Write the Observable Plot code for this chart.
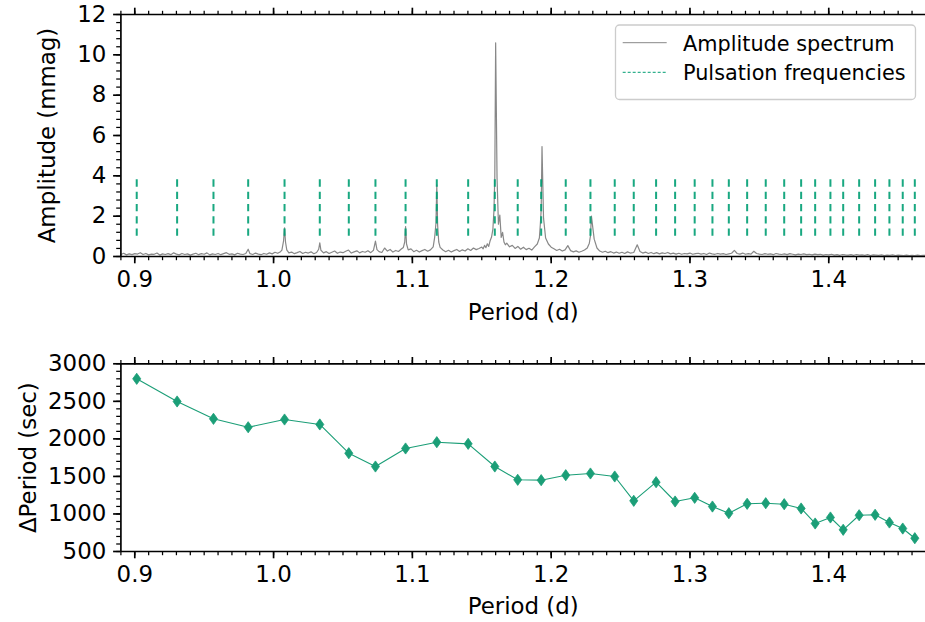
<!DOCTYPE html>
<html><head><meta charset="utf-8">
<script src="https://cdn.jsdelivr.net/npm/d3@7"></script>
<script src="https://cdn.jsdelivr.net/npm/@observablehq/plot@0.6"></script>
<style>
html,body{margin:0;padding:0;background:#fff;overflow:hidden}
#chart{width:925px;height:622px;position:relative}
#chart svg{display:block}
</style></head><body><div id="chart"></div>
<script>
// ---- data ----
const pulsationPeriods = [0.9014,0.9305,0.9567,0.9817,1.0079,1.0333,1.0542,1.0734,1.0951,1.1176,1.1402,1.1594,1.1759,
  1.1928,1.2105,1.2283,1.2458,1.2595,1.2756,1.2893,1.3034,1.3162,1.3280,1.3412,1.3546,1.3679,1.3801,1.3902,1.4012,
  1.4104,1.4219,1.4334,1.4437,1.4533,1.4620];
const deltaPeriods = [2800,2498,2267,2155,2258,2192,1809,1632,1872,1956,1934,1632,1455,
  1450,1516,1539,1499,1175,1423,1166,1215,1099,1010,1135,1143,1130,1073,873,953,
  789,983,989,886,806,677];
const spectrumPeriods = [0.890,0.892,0.894,0.896,0.898,0.900,0.902,0.904,0.906,0.908,0.910,0.912,0.914,0.916,0.918,0.920,
  0.922,0.924,0.926,0.928,0.930,0.932,0.934,0.936,0.938,0.940,0.942,0.944,0.946,0.948,0.950,0.952,0.954,0.956,0.958,0.960,
  0.962,0.964,0.966,0.968,0.970,0.972,0.974,0.976,0.978,0.980,0.9817,0.983,0.985,0.987,0.989,0.991,0.993,0.995,0.997,
  0.999,1.001,1.003,1.005,1.006,1.0072,1.0079,1.0086,1.0095,1.011,1.013,1.015,1.017,1.019,1.021,1.023,1.025,1.027,1.029,
  1.031,1.0325,1.0333,1.0341,1.036,1.038,1.040,1.042,1.044,1.046,1.048,1.050,1.052,1.054,1.056,1.058,1.060,1.062,1.064,
  1.066,1.068,1.070,1.072,1.0734,1.0745,1.076,1.078,1.080,1.082,1.084,1.086,1.088,1.090,1.092,1.0935,1.0945,1.0951,
  1.0958,1.097,1.099,1.101,1.103,1.105,1.107,1.109,1.111,1.113,1.115,1.116,1.1170,1.1176,1.1182,1.119,1.120,1.122,1.124,
  1.126,1.128,1.130,1.132,1.134,1.136,1.138,1.140,1.142,1.144,1.146,1.148,1.150,1.151,1.152,1.153,1.154,1.155,1.156,
  1.157,1.158,1.1588,1.1594,1.1600,1.161,1.162,1.163,1.164,1.165,1.166,1.167,1.168,1.170,1.172,1.174,1.176,1.178,1.180,
  1.182,1.184,1.186,1.188,1.190,1.1915,1.1922,1.1928,1.1934,1.1945,1.196,1.198,1.200,1.202,1.204,1.206,1.208,1.210,
  1.212,1.214,1.216,1.218,1.220,1.222,1.224,1.226,1.2275,1.2283,1.229,1.231,1.233,1.235,1.237,1.239,1.241,1.243,1.245,
  1.247,1.249,1.251,1.253,1.255,1.257,1.2595,1.262,1.264,1.266,1.268,1.270,1.272,1.274,1.276,1.278,1.280,1.282,1.284,
  1.286,1.288,1.290,1.292,1.294,1.296,1.298,1.300,1.302,1.304,1.306,1.308,1.310,1.312,1.314,1.316,1.318,1.320,1.322,
  1.324,1.326,1.328,1.330,1.332,1.334,1.336,1.338,1.340,1.342,1.344,1.346,1.348,1.350,1.352,1.354,1.356,1.358,1.360,
  1.362,1.364,1.366,1.368,1.370,1.372,1.374,1.376,1.378,1.380,1.382,1.384,1.386,1.388,1.390,1.392,1.394,1.396,1.398,
  1.400,1.402,1.404,1.406,1.408,1.410,1.412,1.414,1.416,1.418,1.420,1.422,1.424,1.426,1.428,1.430,1.432,1.434,1.436,
  1.438,1.440,1.442,1.444,1.446,1.448,1.450,1.452,1.454,1.456,1.458,1.460,1.462,1.464,1.466,1.468,1.470];
const spectrumAmps = [0.10,0.16,0.08,0.13,0.09,0.14,0.12,0.19,0.10,0.15,0.08,0.12,0.11,0.17,0.07,0.13,
  0.10,0.14,0.09,0.18,0.12,0.08,0.15,0.10,0.13,0.07,0.12,0.16,0.09,0.14,0.11,0.18,0.08,0.13,0.10,0.15,
  0.09,0.14,0.19,0.11,0.13,0.08,0.16,0.12,0.10,0.15,0.36,0.14,0.10,0.17,0.12,0.09,0.15,0.11,0.18,
  0.13,0.21,0.16,0.24,0.32,0.78,1.42,0.72,0.33,0.18,0.22,0.14,0.19,0.25,0.15,0.21,0.17,0.23,0.14,
  0.20,0.36,0.68,0.31,0.18,0.24,0.15,0.21,0.27,0.16,0.22,0.19,0.26,0.32,0.17,0.23,0.28,0.18,0.25,
  0.21,0.29,0.19,0.31,0.76,0.34,0.24,0.20,0.42,0.27,0.35,0.22,0.30,0.25,0.37,0.45,0.72,1.48,
  0.62,0.33,0.38,0.24,0.31,0.22,0.29,0.35,0.26,0.33,0.48,0.92,1.65,3.55,1.55,0.72,0.45,0.32,0.24,
  0.31,0.22,0.29,0.35,0.25,0.33,0.27,0.38,0.30,0.42,0.34,0.40,0.47,0.38,0.55,0.44,0.63,0.50,0.78,
  0.95,1.35,2.30,4.00,10.6,3.90,1.60,2.05,0.95,1.20,0.72,0.58,0.66,0.48,0.55,0.40,0.50,0.36,0.46,
  0.34,0.41,0.32,0.48,0.62,0.92,1.60,2.30,5.45,1.90,0.92,0.62,0.46,0.38,0.30,0.36,0.27,0.33,0.54,
  0.29,0.23,0.28,0.21,0.26,0.32,0.42,0.66,1.02,2.00,0.86,0.42,0.27,0.21,0.26,0.19,0.24,0.17,0.22,
  0.16,0.21,0.15,0.23,0.17,0.20,0.58,0.25,0.17,0.22,0.15,0.20,0.14,0.19,0.13,0.18,0.15,0.20,0.13,
  0.17,0.12,0.16,0.11,0.15,0.13,0.17,0.11,0.14,0.16,0.12,0.15,0.10,0.17,0.13,0.11,0.15,0.12,0.14,
  0.10,0.13,0.16,0.30,0.15,0.12,0.17,0.11,0.14,0.12,0.26,0.15,0.12,0.10,0.14,0.11,0.13,0.09,0.15,
  0.12,0.10,0.13,0.09,0.14,0.11,0.08,0.12,0.10,0.13,0.09,0.11,0.08,0.12,0.09,0.11,0.07,0.10,0.08,
  0.11,0.07,0.09,0.06,0.10,0.08,0.07,0.09,0.06,0.10,0.07,0.08,0.06,0.09,0.05,0.08,0.07,0.06,0.08,
  0.05,0.07,0.06,0.08,0.05,0.07,0.06,0.05,0.07,0.05,0.06,0.04,0.07,0.05,0.06,0.05,0.05];
const xMajorTicks = [0.9,1.0,1.1,1.2,1.3,1.4];
const ampTicks = [0,2,4,6,8,10,12];
const dpTicks = [500,1000,1500,2000,2500,3000];

// ---- styling ----
const FONT = "'DejaVu Sans', sans-serif";
const FS = 22.9;     // axis text
const LFS = 20.8;    // legend text
const W = 925;
const GREEN = "#1b9e77";
const DASHGREEN = "#009e73";
const GRAY = "#888888";
const xDomain = [0.89, 1.4697];
const xMinorTicks = d3.range(89, 147).map(i => i / 100);
const ampMinor = d3.range(0, 31).map(i => +(i * 0.4).toFixed(2));
const dpMinor = d3.range(5, 31).map(i => i * 100);

const thinDiamond = {
  draw(ctx, size) {
    const r = Math.sqrt(size / Math.PI);
    const h = r, w = r * 0.72;
    ctx.moveTo(0, -h); ctx.lineTo(w, 0); ctx.lineTo(0, h); ctx.lineTo(-w, 0); ctx.closePath();
  }
};

function frameAxes(yTicks, yMinor, yFmt, yDomain) {
  return [
    Plot.ruleX([xDomain[0]], {stroke: "black", strokeWidth: 1.67}),
    Plot.ruleY([yDomain[0]], {stroke: "black", strokeWidth: 1.67}),
    Plot.ruleY([yDomain[1]], {stroke: "black", strokeWidth: 1.67}),
    Plot.axisX({ticks: xMajorTicks, tickSize: 7.3, tickPadding: 7.3, tickFormat: d3.format(".1f"), strokeWidth: 1.67, label: null}),
    Plot.axisX({ticks: xMinorTicks, tickSize: 4.2, tickFormat: () => "", strokeWidth: 1.25, label: null}),
    Plot.axisX({anchor: "top", ticks: xMajorTicks, tickSize: 7.3, tickFormat: () => "", strokeWidth: 1.67, label: null}),
    Plot.axisX({anchor: "top", ticks: xMinorTicks, tickSize: 4.2, tickFormat: () => "", strokeWidth: 1.25, label: null}),
    Plot.axisY({ticks: yTicks, tickSize: 7.3, tickPadding: 7.3, tickFormat: yFmt, strokeWidth: 1.67, label: null}),
    Plot.axisY({ticks: yMinor, tickSize: 4.2, tickFormat: () => "", strokeWidth: 1.25, label: null})
  ];
}

const spectrum = spectrumPeriods.map((p, i) => ({p, a: spectrumAmps[i]}));
const topPlot = Plot.plot({
  width: W, height: 330,
  marginLeft: 120.4, marginRight: 0, marginTop: 14, marginBottom: 74,
  style: {fontFamily: FONT, fontSize: FS + "px", color: "black", background: "white"},
  x: {domain: xDomain, label: null},
  y: {domain: [0, 12], label: null},
  marks: [
    Plot.line(spectrum, {x: "p", y: "a", stroke: GRAY, strokeWidth: 1.2, clip: true}),
    Plot.ruleX(pulsationPeriods, {y1: 1, y2: 4, stroke: DASHGREEN, strokeWidth: 2, strokeDasharray: "7.3,5", strokeOpacity: 0.9}),
    ...frameAxes(ampTicks, ampMinor, d3.format("d"), [0, 12]),
    Plot.text(["Period (d)"], {frameAnchor: "bottom", dy: 56, lineAnchor: "middle", textAnchor: "middle", fontSize: FS}),
    Plot.text(["Amplitude (mmag)"], {frameAnchor: "left", dx: -73, rotate: -90, lineAnchor: "middle", textAnchor: "middle", fontSize: FS})
  ]
});

const dpData = pulsationPeriods.map((p, i) => ({p, d: deltaPeriods[i]}));
const bottomPlot = Plot.plot({
  width: W, height: 292,
  marginLeft: 120.4, marginRight: 0, marginTop: 33.3, marginBottom: 71,
  style: {fontFamily: FONT, fontSize: FS + "px", color: "black", background: "white"},
  x: {domain: xDomain, label: null},
  y: {domain: [500, 3000], label: null},
  marks: [
    Plot.line(dpData, {x: "p", y: "d", stroke: GREEN, strokeWidth: 1.1}),
    Plot.dot(dpData, {x: "p", y: "d", symbol: thinDiamond, r: 5.6, fill: GREEN, stroke: GREEN, strokeWidth: 0.8}),
    ...frameAxes(dpTicks, dpMinor, d3.format("d"), [500, 3000]),
    Plot.text(["Period (d)"], {frameAnchor: "bottom", dy: 55, lineAnchor: "middle", textAnchor: "middle", fontSize: FS}),
    Plot.text(["ΔPeriod (sec)"], {frameAnchor: "left", dx: -92, rotate: -90, lineAnchor: "middle", textAnchor: "middle", fontSize: FS})
  ]
});

const chart = document.getElementById("chart");
chart.appendChild(topPlot);
chart.appendChild(bottomPlot);

// legend (inside top panel, upper right)
const lg = d3.select(topPlot).append("g").attr("font-family", FONT).attr("font-size", LFS).attr("text-anchor", "start");
lg.append("rect").attr("x", 615.5).attr("y", 25).attr("width", 300).attr("height", 74.5).attr("rx", 4)
  .attr("fill", "white").attr("fill-opacity", 0.8).attr("stroke", "#cccccc").attr("stroke-width", 1.3);
lg.append("line").attr("x1", 622.7).attr("x2", 666.7).attr("y1", 42.7).attr("y2", 42.7)
  .attr("stroke", GRAY).attr("stroke-width", 1);
lg.append("line").attr("x1", 622.7).attr("x2", 666.7).attr("y1", 72.3).attr("y2", 72.3)
  .attr("stroke", DASHGREEN).attr("stroke-width", 1).attr("stroke-dasharray", "3,2");
lg.append("text").attr("x", 683).attr("y", 50.7).attr("fill", "black").text("Amplitude spectrum");
lg.append("text").attr("x", 683).attr("y", 80).attr("fill", "black").text("Pulsation frequencies");
</script></body></html>
